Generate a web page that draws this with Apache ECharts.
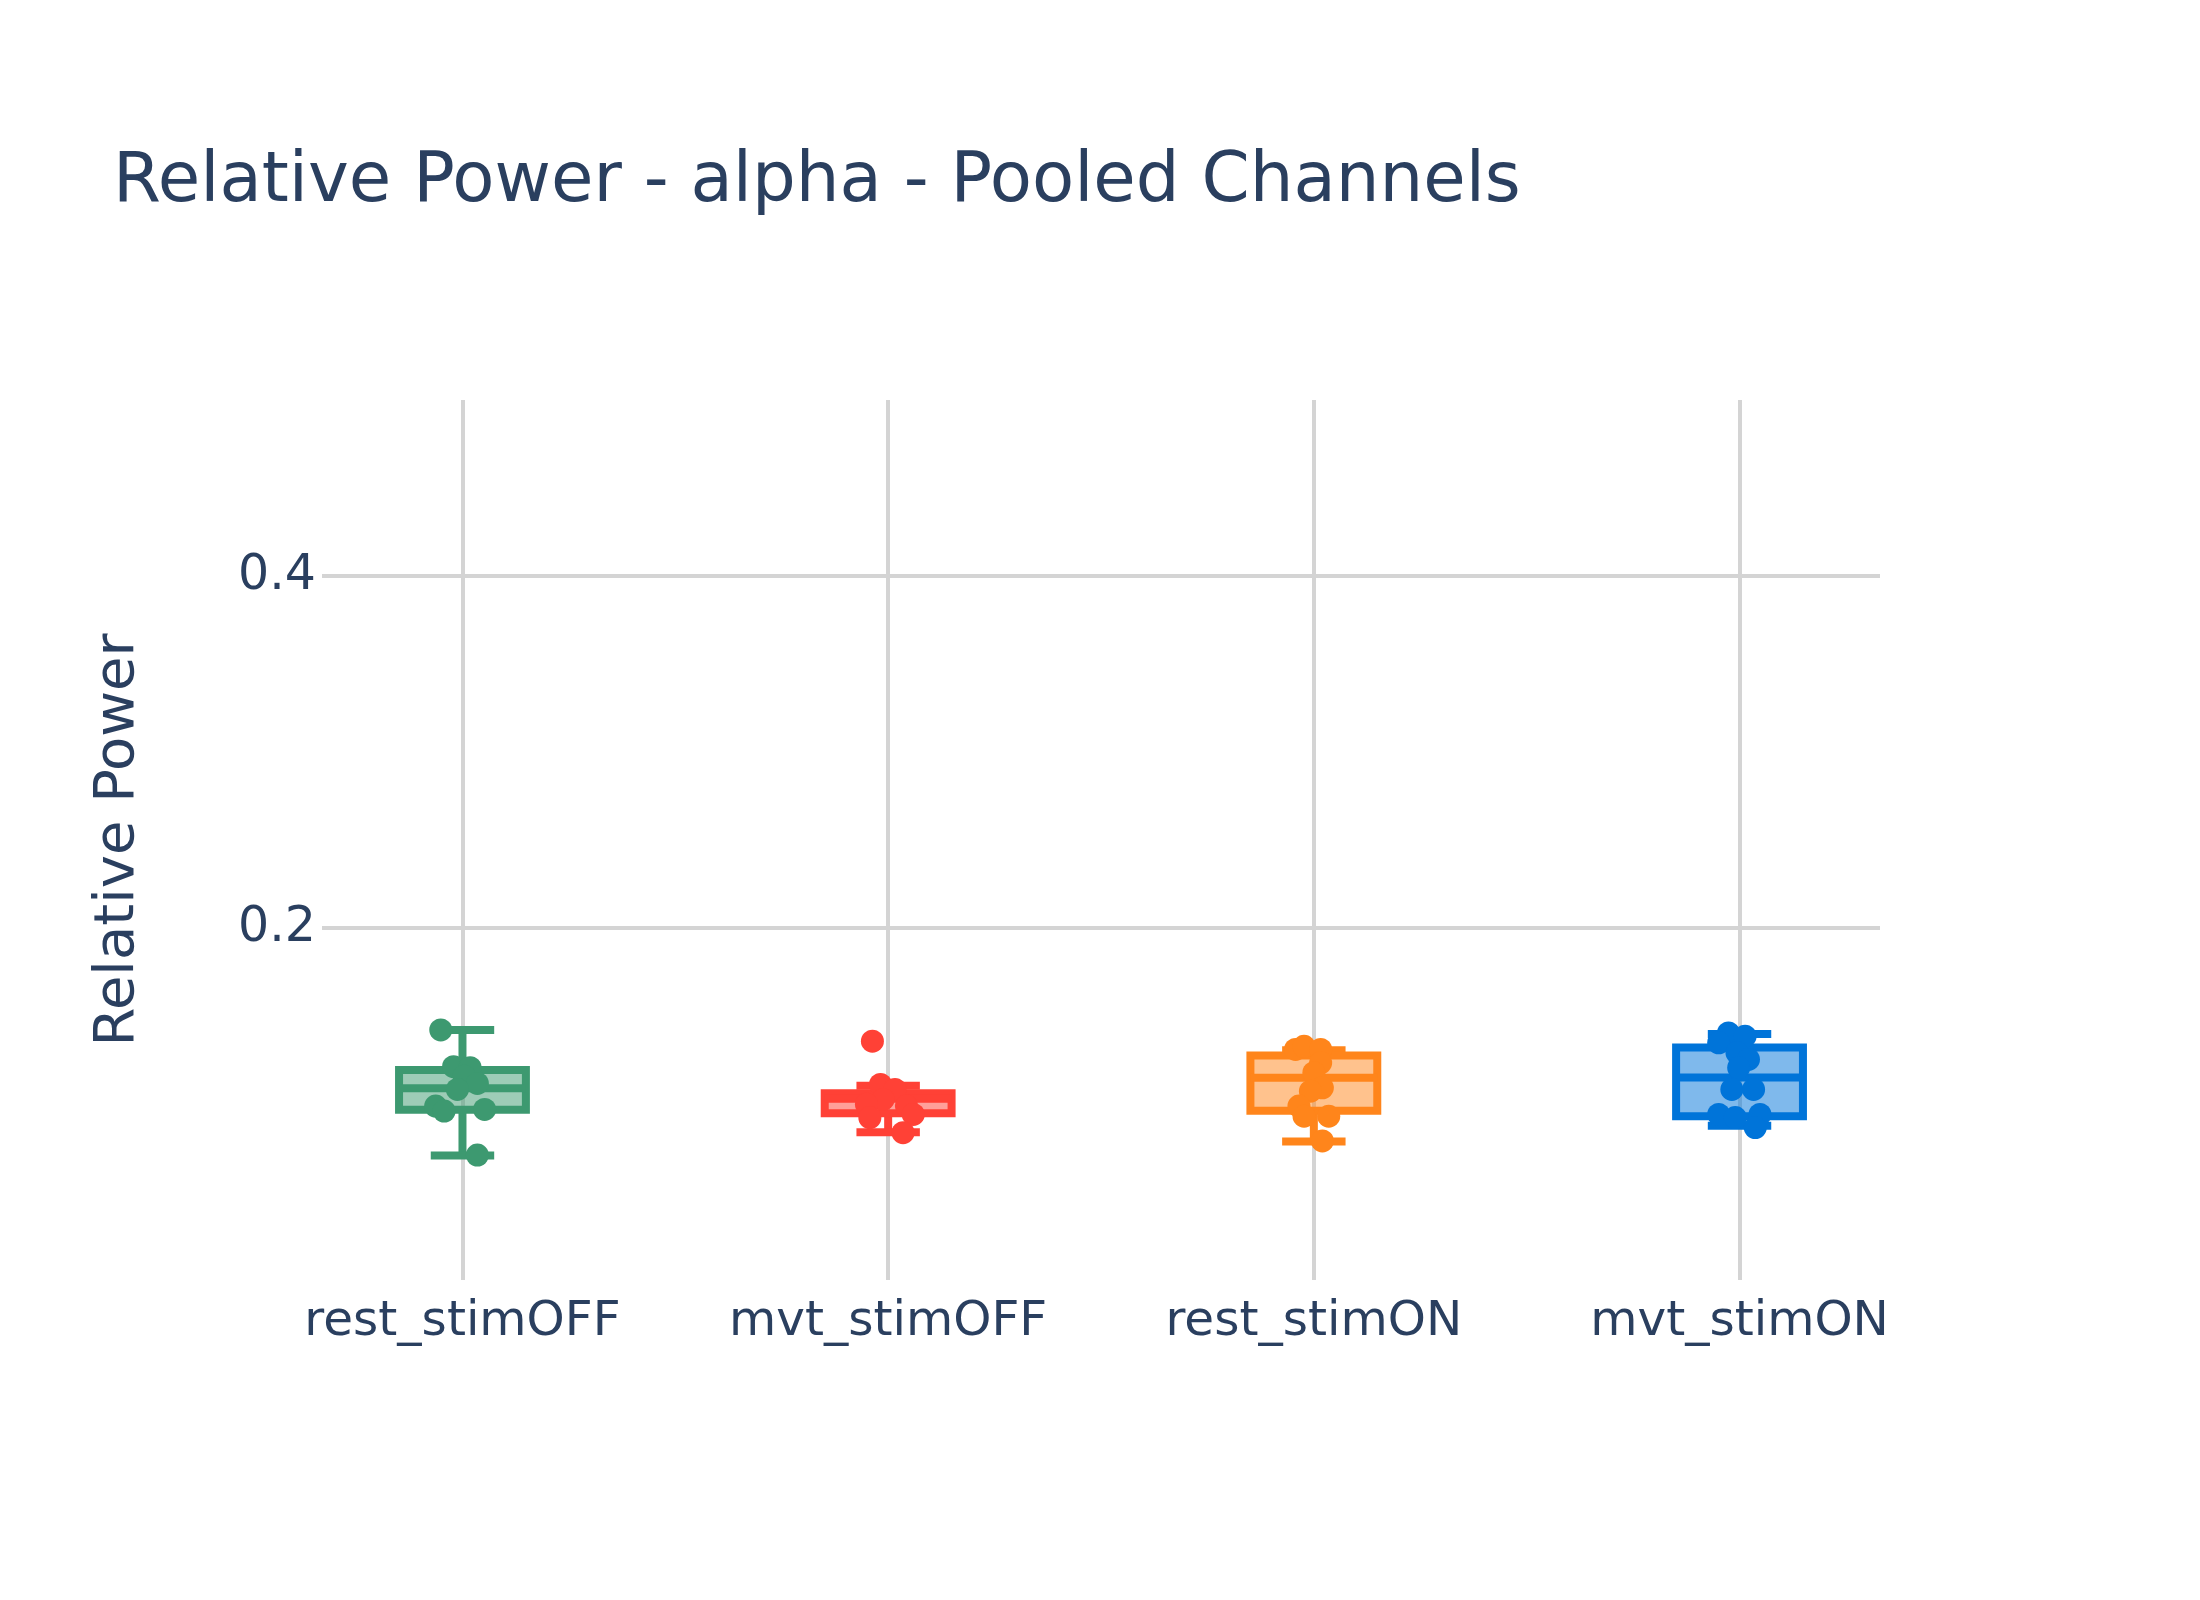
<!DOCTYPE html>
<html><head><meta charset="utf-8">
<script src="https://cdn.jsdelivr.net/npm/echarts@6/dist/echarts.min.js"></script>
<style>html,body{margin:0;padding:0;background:#fff}#c{width:2200px;height:1600px}</style>
</head><body><div id="c"></div>
<script>
// ---- data ----
const categories = ['rest_stimOFF', 'mvt_stimOFF', 'rest_stimON', 'mvt_stimON'];
const yTickValues = [0.2, 0.4];

// box stats: [lower fence, Q1, median, Q3, upper fence]
const restOffBox = [0.0708, 0.0967, 0.1090, 0.1193, 0.1421];
const mvtOffBox  = [0.0840, 0.0948, 0.1030, 0.1061, 0.1104];
const restOnBox  = [0.0787, 0.0962, 0.1149, 0.1275, 0.1306];
const mvtOnBox   = [0.0877, 0.0930, 0.1151, 0.1321, 0.1398];

// individual points and their horizontal jitter (in category units)
const restOffPoints = [0.1421, 0.1212, 0.1206, 0.1158, 0.1117, 0.1083, 0.0988, 0.0960, 0.0969, 0.0710];
const restOffJitter = [-0.051, -0.021, 0.018, 0.004, 0.035, -0.012, -0.063, -0.043, 0.052, 0.035];
const mvtOffPoints  = [0.1357, 0.1111, 0.1083, 0.1026, 0.0998, 0.0988, 0.0922, 0.0941, 0.0837];
const mvtOffJitter  = [-0.037, -0.018, 0.016, -0.012, -0.051, 0.043, -0.043, 0.059, 0.035];
const restOnPoints  = [0.1310, 0.1328, 0.1310, 0.1234, 0.1178, 0.1092, 0.1073, 0.0988, 0.0931, 0.0931, 0.0790];
const restOnJitter  = [-0.043, -0.023, 0.016, 0.016, 0.000, 0.020, -0.008, -0.035, -0.023, 0.035, 0.020];
const mvtOnPoints   = [0.1404, 0.1385, 0.1348, 0.1291, 0.1253, 0.1206, 0.1083, 0.1083, 0.0941, 0.0941, 0.0866, 0.0923];
const mvtOnJitter   = [-0.026, 0.013, -0.049, -0.006, 0.021, -0.002, -0.018, 0.033, -0.049, 0.048, 0.037, -0.010];

// ---- styling ----
const colors = ['#3D9970', '#FF4136', '#FF851B', '#0074D9'];
const fills = ['rgba(61,153,112,0.5)', 'rgba(255,65,54,0.5)', 'rgba(255,133,27,0.5)', 'rgba(0,116,217,0.5)'];
const TEXT = '#2a3f5f';
const GRID = '#d4d4d4';
const FONT = 'DejaVu Sans';
const LW = 8;
const BOX_FRAC = 0.298;
const WHISKER_FRAC = 0.5;

const boxes = [restOffBox, mvtOffBox, restOnBox, mvtOnBox];
const points = [restOffPoints, mvtOffPoints, restOnPoints, mvtOnPoints];
const jitters = [restOffJitter, mvtOffJitter, restOnJitter, mvtOnJitter];

function boxRender(color, fill) {
  return function (params, api) {
    const x = api.value(0);
    const lo = api.coord([x, api.value(1)]);
    const q1 = api.coord([x, api.value(2)]);
    const md = api.coord([x, api.value(3)]);
    const q3 = api.coord([x, api.value(4)]);
    const hi = api.coord([x, api.value(5)]);
    const band = api.size([1, 0])[0];
    const hw = band * BOX_FRAC / 2;
    const cw = hw * WHISKER_FRAC;
    const cx = q1[0];
    const ls = { stroke: color, lineWidth: LW, fill: null };
    return {
      type: 'group',
      children: [
        { type: 'line', shape: { x1: cx, y1: q3[1], x2: cx, y2: hi[1] }, style: ls },
        { type: 'line', shape: { x1: cx, y1: q1[1], x2: cx, y2: lo[1] }, style: ls },
        { type: 'line', shape: { x1: cx - cw, y1: hi[1], x2: cx + cw, y2: hi[1] }, style: ls },
        { type: 'line', shape: { x1: cx - cw, y1: lo[1], x2: cx + cw, y2: lo[1] }, style: ls },
        { type: 'rect', shape: { x: cx - hw, y: q3[1], width: 2 * hw, height: q1[1] - q3[1] },
          style: { fill: fill, stroke: color, lineWidth: LW, lineJoin: 'miter' } },
        { type: 'line', shape: { x1: cx - hw, y1: md[1], x2: cx + hw, y2: md[1] }, style: ls }
      ]
    };
  };
}

const series = [];
boxes.forEach(function (b, gi) {
  series.push({
    type: 'custom',
    name: categories[gi] + ' box',
    renderItem: boxRender(colors[gi], fills[gi]),
    data: [[gi].concat(b)],
    encode: { x: 0, y: [1, 2, 3, 4, 5] },
    z: 2,
    silent: true
  });
});
points.forEach(function (p, gi) {
  series.push({
    type: 'scatter',
    name: categories[gi],
    data: p.map(function (v, i) { return [gi + jitters[gi][i], v]; }),
    symbol: 'circle',
    symbolSize: 23,
    itemStyle: { color: colors[gi], opacity: 1 },
    z: 3,
    silent: true
  });
});

const chart = echarts.init(document.getElementById('c'), null, { renderer: 'canvas' });
chart.setOption({
  animation: false,
  backgroundColor: '#ffffff',
  title: {
    text: 'Relative Power - alpha - Pooled Channels',
    left: 113, top: 149, padding: 0,
    textStyle: { color: TEXT, fontFamily: FONT, fontSize: 69, fontWeight: 'normal' }
  },
  grid: { left: 322, right: 320, top: 400, bottom: 320, containLabel: false, outerBoundsMode: 'none' },
  xAxis: {
    type: 'value',
    min: -0.33, max: 3.33,
    axisLine: { show: false },
    axisTick: { show: false, customValues: [0, 1, 2, 3] },
    splitLine: { show: true, lineStyle: { color: GRID, width: 4 } },
    axisLabel: {
      customValues: [0, 1, 2, 3],
      margin: 18,
      color: TEXT, fontFamily: FONT, fontSize: 48.5,
      formatter: function (v) { return categories[Math.round(v)] || ''; }
    }
  },
  yAxis: {
    type: 'value',
    min: 0, max: 0.5,
    name: 'Relative Power',
    nameLocation: 'middle',
    nameRotate: 90,
    nameGap: 176,
    nameTextStyle: { color: TEXT, fontFamily: FONT, fontSize: 56 },
    axisLine: { show: false },
    axisTick: { show: false, customValues: yTickValues },
    splitLine: { show: true, lineStyle: { color: GRID, width: 4 } },
    axisLabel: {
      customValues: yTickValues,
      margin: 6,
      color: TEXT, fontFamily: FONT, fontSize: 49,
      formatter: function (v) { return v.toFixed(1); }
    }
  },
  series: series
});
</script></body></html>
